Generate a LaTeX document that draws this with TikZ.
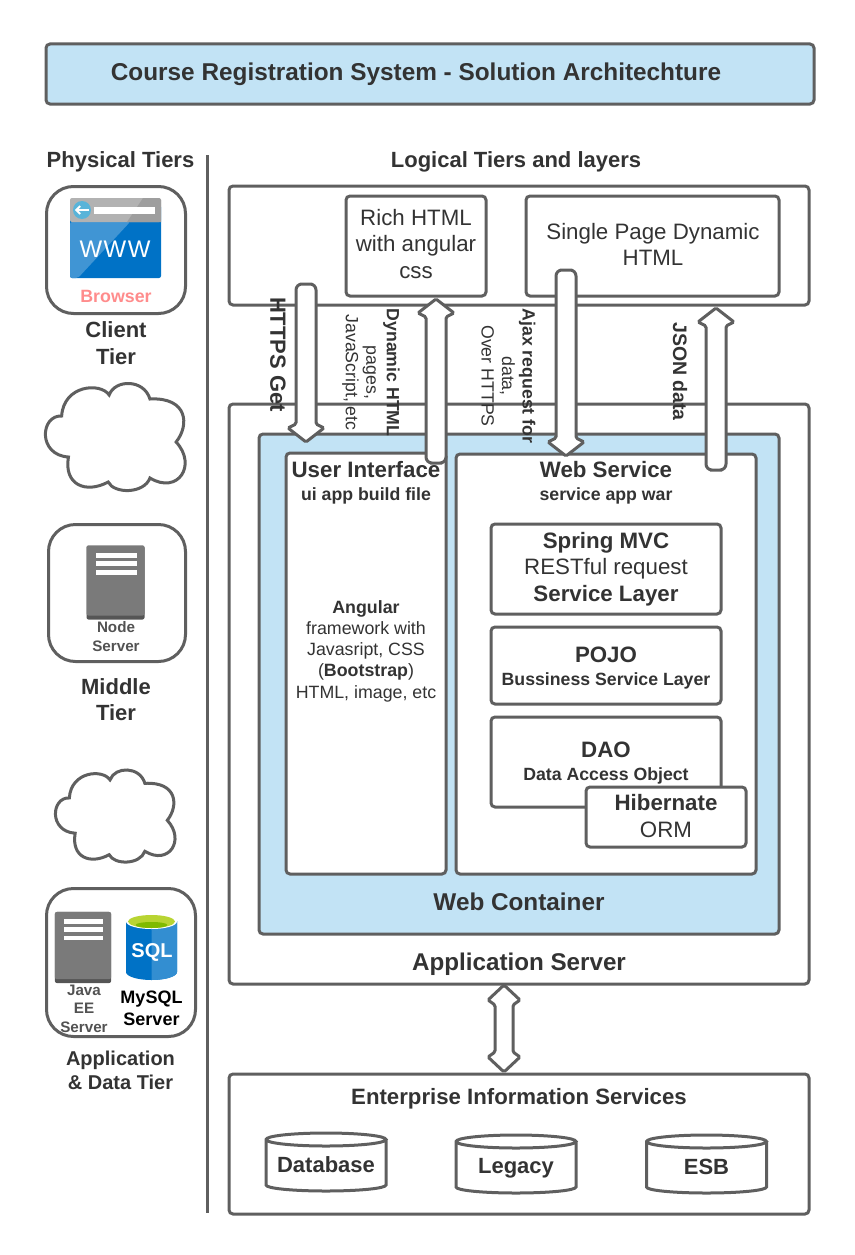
\documentclass[tikz,border=0pt]{standalone}
\usepackage{fontspec}
\setmainfont{Liberation Sans}
\usepackage{xcolor}
\usetikzlibrary{arrows.meta,positioning,shapes.geometric,calc}
\definecolor{edgegray}{HTML}{5F5F5F}
\definecolor{inkgray}{HTML}{333333}
\definecolor{paleblue}{HTML}{C2E3F5}
\definecolor{azure}{HTML}{0072C6}
\definecolor{skyicon}{HTML}{59B4D9}
\definecolor{limetop}{HTML}{B8D432}
\definecolor{limein}{HTML}{7FBA00}
\definecolor{rackgray}{HTML}{7A7A7A}
\newcommand{\blockarrow}[2]{%
\coordinate (neck) at ($(#2)!18pt!(#1)$);
\coordinate (wing) at ($(#2)!14pt!(#1)$);
\draw[flowarrow,rounded corners=6pt] (#1) -- ($(#1)!10pt!90:(#2)$) [rounded corners=1.5pt] -- ($(neck)!10pt!90:(#2)$) -- ($(wing)!18pt!90:(#2)$) -- (#2) -- ($(wing)!18pt!-90:(#2)$) -- ($(neck)!10pt!-90:(#2)$) [rounded corners=6pt] -- ($(#1)!10pt!-90:(#2)$) -- cycle;
}
\newcommand{\bothwayarrow}[2]{%
\coordinate (neckA) at ($(#1)!20pt!(#2)$);
\coordinate (wingA) at ($(#1)!15pt!(#2)$);
\coordinate (neckB) at ($(#2)!20pt!(#1)$);
\coordinate (wingB) at ($(#2)!15pt!(#1)$);
\draw[flowarrow,rounded corners=1.5pt] (#1) -- ($(wingA)!16pt!90:(#2)$) -- ($(neckA)!9pt!90:(#2)$) -- ($(neckB)!9pt!-90:(#1)$) -- ($(wingB)!16pt!-90:(#1)$) -- (#2) -- ($(wingB)!16pt!90:(#1)$) -- ($(neckB)!9pt!90:(#1)$) -- ($(neckA)!9pt!-90:(#2)$) -- ($(wingA)!16pt!-90:(#2)$) -- cycle;
}
\newcommand{\storagedrum}[1]{%
\draw[edgegray,line width=3pt] ($(#1.north west)+(0,6.5)$) arc[start angle=180,end angle=-180,x radius=60,y radius=6.5] -- ($(#1.south west)+(0,-6)$) arc[start angle=180,end angle=0,x radius=60,y radius=6] -- ($(#1.north east)+(0,6.5)$);
}
\tikzset{
  box/.style={draw=edgegray,line width=3pt,rounded corners=4pt,inner sep=0pt,outer sep=0pt,text=inkgray,align=center},
  tierbox/.style={box,rounded corners=27pt},
  flowarrow/.style={draw=edgegray,line width=3pt,fill=white},
  lab/.style={text=inkgray,inner sep=0pt,outer sep=0pt,align=center},
  headtext/.style={font=\fontsize{22.3}{26.5}\selectfont\bfseries},
  plaintext/.style={font=\fontsize{22.3}{26.5}\selectfont},
  subtext/.style={font=\fontsize{17.7}{21}\selectfont\bfseries},
  tiertext/.style={font=\fontsize{22}{26.5}\selectfont\bfseries},
  sidetext/.style={rotate=-90,font=\fontsize{17.7}{20.5}\selectfont},
  storage/.style={minimum width=120pt,minimum height=58pt,inner sep=0pt,outer sep=0pt},
  storetext/.style={font=\fontsize{22}{26}\selectfont\bfseries},
  pics/rack/.style={code={
    \fill[rackgray!70!black,rounded corners=2pt] (-29,-37) rectangle (29,37);
    \fill[rackgray,rounded corners=2pt] (-29,-37) rectangle (29,33);
    \foreach \ypos in {-27,-19,-10} \fill[white] (-20,\ypos-2.5) rectangle (21,\ypos+2.5);
  }},
  pics/tiercloud/.style={code={
    \draw[edgegray,line width=3pt,fill=white] (-55,-21) .. controls (-53,-52) and (-15,-55) .. (-6,-42) .. controls (0,-58) and (30,-58) .. (36,-38) .. controls (75,-40) and (77,-12) .. (63,5) .. controls (85,28) and (65,58) .. (36,41) .. controls (30,57) and (-1,57) .. (-7,45) .. controls (-30,57) and (-53,48) .. (-48,20) .. controls (-80,18) and (-77,-22) .. (-55,-21) -- cycle;
  }}
}
\begin{document}
\begin{tikzpicture}[x=1pt,y=-1pt]
\useasboundingbox (0,0) rectangle (854,1255);
\node[box,fill=paleblue,minimum width=768pt,minimum height=60pt,font=\fontsize{24.35}{28}\selectfont\bfseries] (title) at (430,74) {\hspace*{-14pt}Course Registration System - Solution Architechture\hspace*{14pt}};
\node[lab,tiertext] (physical) at (120.5,162) {Physical Tiers};
\node[lab,tiertext] (logical) at (516,162) {Logical Tiers and layers};
\coordinate (dividerTop) at (207,155);
\coordinate (dividerEnd) at (207,1213);
\draw[edgegray,line width=3pt] (dividerTop) -- (dividerEnd);

\node[tierbox,minimum width=139pt,minimum height=127pt] (client) at (116,250) {};
\fill[azure,rounded corners=2pt] (70,205) rectangle (161,278);
\fill[azure!75!white,rounded corners=2pt] (70,222) -- (130,222) -- (78,278) -- (70,278) -- cycle;
\fill[black!30,rounded corners=2pt] (70,198) rectangle (161,222);
\fill[black!38] (143,198) -- (159,198) -- (161,200) -- (161,222) -- (127,222) -- cycle;
\fill[white] (94,207) rectangle (155,214);
\node[circle,fill=skyicon,minimum size=18pt,inner sep=0pt] (back) at (82,210) {};
\draw[white,line width=2pt,-{Straight Barb[length=4pt,width=8pt]}] ($(back.east)+(-2,0)$) -- ($(back.west)+(2,0)$);
\node[lab,text=white,font=\fontsize{24}{28}\selectfont] (www) at (115,249) {W\kern1.5pt W\kern1.5pt W};
\node[lab,text=red!45!white,font=\fontsize{17.8}{20}\selectfont\bfseries] (browser) at (116,296) {Browser};
\node[lab,tiertext] (clienttier) at (116,343) {Client\\Tier};
\pic[xscale=.97,yscale=1] (cloudA) at (115,437) {tiercloud};

\node[tierbox,minimum width=137pt,minimum height=137pt] (middle) at (117,593) {};
\pic (nodeRack) at (115.5,582.5) {rack};
\node[lab,text=inkgray!85!white,font=\fontsize{15.2}{19}\selectfont\bfseries] (nodeserver) at (116,636.5) {Node\\Server};
\node[lab,tiertext] (middletier) at (116,699.5) {Middle\\Tier};
\pic[xscale=.83,yscale=.86] (cloudB) at (115,816) {tiercloud};

\node[tierbox,minimum width=149pt,minimum height=148pt] (appdata) at (121,962.5) {};
\pic[xscale=.97,yscale=.96] (javaRack) at (83,947.5) {rack};
\fill[azure] (126,921) -- (126,972) arc[start angle=180,end angle=0,x radius=25.5,y radius=8] -- (177,921) -- cycle;
\fill[azure!80!white] (151.5,921) -- (151.5,980) arc[start angle=90,end angle=0,x radius=25.5,y radius=8] -- (177,921) -- cycle;
\fill[white] (151.5,921.5) ellipse[x radius=25.5,y radius=7.5];
\fill[limetop] (151.5,921.5) ellipse[x radius=23.5,y radius=6.5];
\fill[limein] (151.5,925) ellipse[x radius=16,y radius=3];
\node[lab,text=white,font=\fontsize{20}{24}\selectfont\bfseries] (sqltext) at (152,952) {SQL};
\node[lab,text=inkgray!85!white,font=\fontsize{15.2}{18.5}\selectfont\bfseries] (javaserver) at (84,1008.5) {Java\\EE\\Server};
\node[lab,text=black,font=\fontsize{18}{22}\selectfont\bfseries] (mysql) at (151.5,1008) {MySQL\\Server};
\node[lab,font=\fontsize{20}{24}\selectfont\bfseries] (datatier) at (120.5,1070.5) {Application\\\& Data Tier};

\node[box,minimum width=580pt,minimum height=119pt] (presentation) at (519,245.5) {};
\node[box,minimum width=140pt,minimum height=100pt] (richhtml) at (416,246) {};
\node[box,minimum width=253pt,minimum height=100pt] (singlepage) at (652.5,246) {};
\node[box,minimum width=580pt,minimum height=580pt] (appserver) at (519,694) {};
\node[box,fill=paleblue,minimum width=520pt,minimum height=500pt] (container) at (519,684) {};
\node[box,fill=white,minimum width=160pt,minimum height=421pt] (uibox) at (366,663.5) {};
\node[box,fill=white,minimum width=300pt,minimum height=420pt] (wsbox) at (606,664) {};
\node[box,minimum width=230pt,minimum height=90pt,plaintext] (spring) at (606,569) {\textbf{Spring MVC}\\RESTful request\\\textbf{Service Layer}};
\node[box,minimum width=230pt,minimum height=77pt] (pojo) at (606,665.5) {};
\node[box,minimum width=230pt,minimum height=90pt] (dao) at (606,762) {};
\node[box,fill=white,minimum width=160pt,minimum height=60pt] (hibernate) at (666,817) {};
\node[box,minimum width=580pt,minimum height=140pt] (eis) at (519,1144) {};

\coordinate (httpsTail) at (306,284);
\coordinate (httpsTip) at (306,442);
\coordinate (dynTail) at (436,463);
\coordinate (dynTip) at (436,299);
\coordinate (ajaxTail) at (566,270);
\coordinate (ajaxTip) at (566,456);
\coordinate (jsonTail) at (716,470);
\coordinate (jsonTip) at (716,308);
\blockarrow{httpsTail}{httpsTip}
\blockarrow{dynTail}{dynTip}
\blockarrow{ajaxTail}{ajaxTip}
\blockarrow{jsonTail}{jsonTip}
\coordinate (linkTop) at (504,985);
\coordinate (linkEnd) at (504,1072);
\bothwayarrow{linkTop}{linkEnd}

\node[lab,plaintext] (richtext) at (416,244) {Rich HTML\\with angular\\css};
\node[lab,plaintext] (singletext) at (653,244.5) {Single Page Dynamic\\HTML};
\node[lab,rotate=-90,font=\fontsize{22}{26}\selectfont\bfseries] (httpsget) at (278,354.5) {HTTPS Get};
\node[lab,sidetext] (dynlabel) at (371,372.5) {\textbf{Dynamic HTML}\\pages,\\JavaScript, etc};
\node[lab,sidetext] (ajaxlabel) at (508.5,376) {\textbf{Ajax request for}\\data,\\Over HTTPS};
\node[lab,rotate=-90,font=\fontsize{19.5}{24}\selectfont\bfseries] (jsonlabel) at (680,371.5) {JSON data};

\node[lab,headtext] (uititle) at (366,470) {User Interface};
\node[lab,subtext] (uisub) at (366,495.5) {ui app build file};
\node[lab,font=\fontsize{17.8}{21.3}\selectfont] (angular) at (366,651) {\textbf{Angular}\\framework with\\Javasript, CSS\\(\textbf{Bootstrap})\\HTML, image, etc};
\node[lab,headtext] (wstitle) at (606,470) {Web Service};
\node[lab,subtext] (wssub) at (606,495.5) {service app war};
\node[lab,headtext] (pojotitle) at (606,655) {POJO};
\node[lab,subtext] (pojosub) at (606,680.5) {Bussiness Service Layer};
\node[lab,headtext] (daotitle) at (606,750) {DAO};
\node[lab,subtext] (daosub) at (606,775.5) {Data Access Object};
\node[lab,plaintext] (hibernatetext) at (666,816) {\textbf{Hibernate}\\ORM};
\node[lab,font=\fontsize{24.3}{28}\selectfont\bfseries] (webcontainer) at (519,902) {Web Container};
\node[lab,font=\fontsize{24.2}{28}\selectfont\bfseries] (appservertext) at (519,964) {Application Server};
\node[lab,font=\fontsize{22.2}{26}\selectfont\bfseries] (eistitle) at (519,1098.5) {Enterprise Information Services};
\node[storage] (database) at (326,1162) {};
\node[storage] (legacy) at (516,1164) {};
\node[storage] (esb) at (706.5,1164) {};
\storagedrum{database}
\storagedrum{legacy}
\storagedrum{esb}
\node[lab,storetext] (databasetext) at (326,1164.5) {Database};
\node[lab,storetext] (legacytext) at (516,1168) {Legacy};
\node[lab,storetext] (esbtext) at (706.5,1166.5) {ESB};
\end{tikzpicture}
\end{document}
